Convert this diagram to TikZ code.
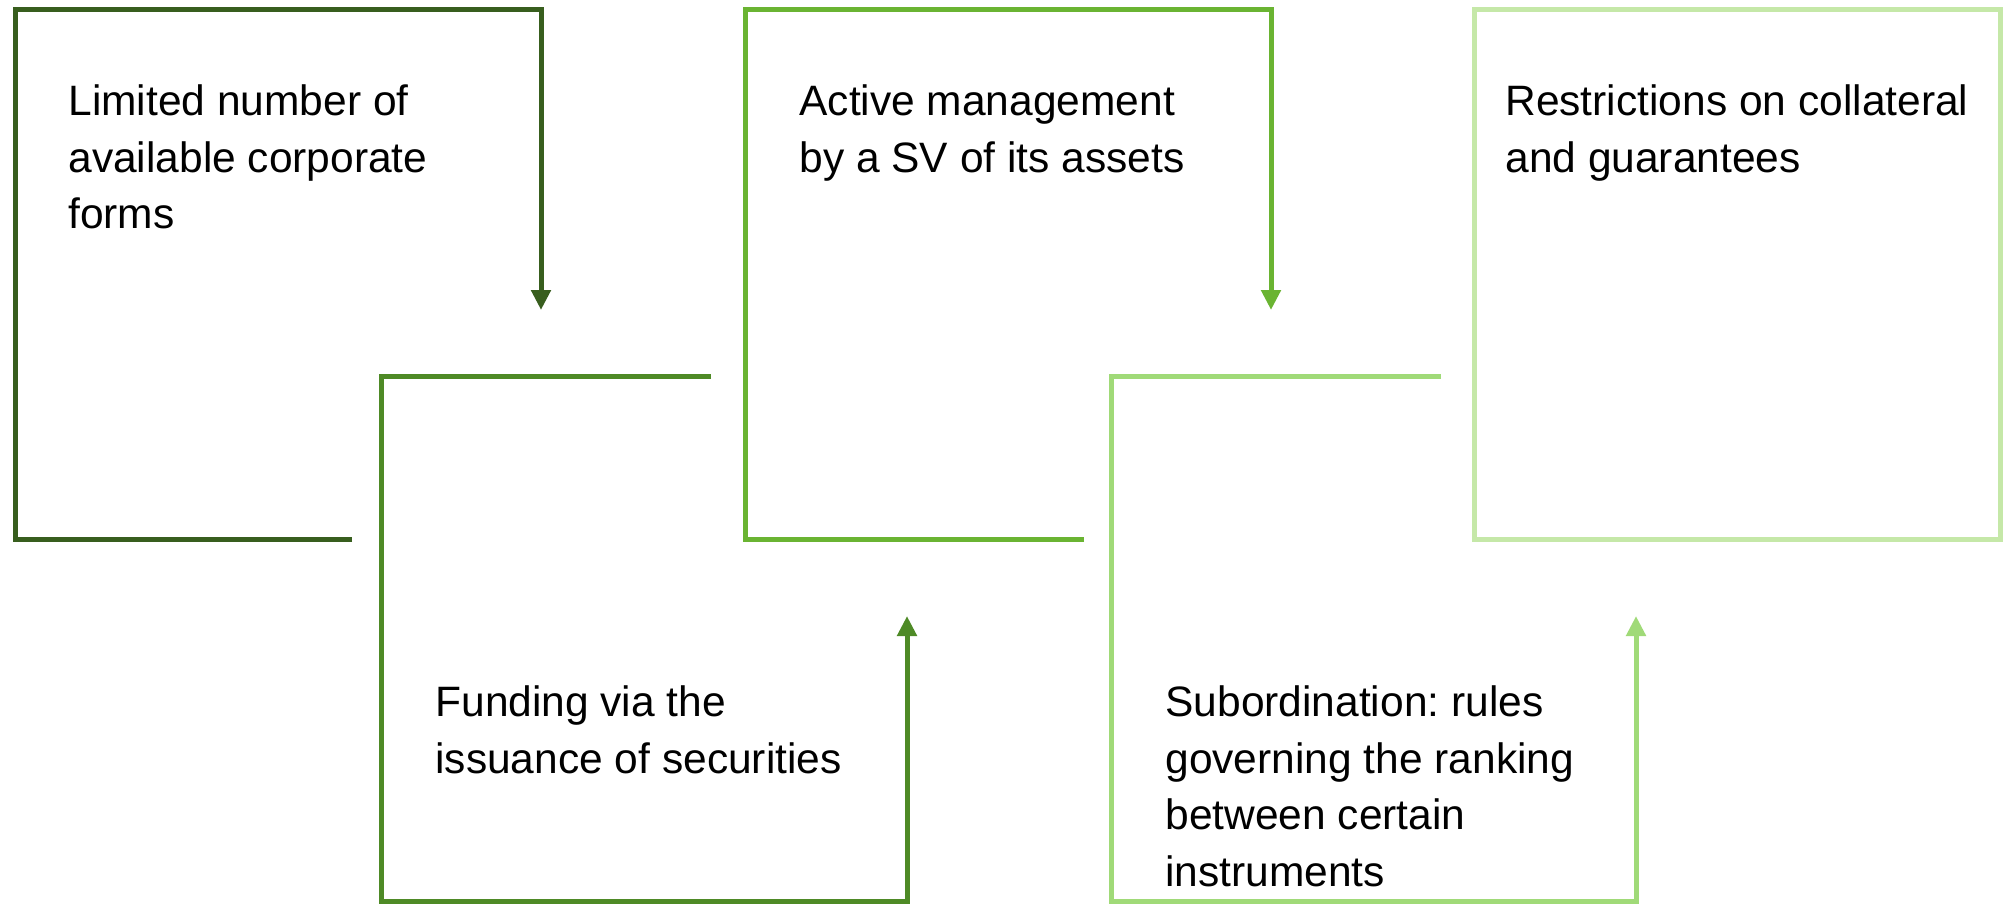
\documentclass[tikz,border=0pt]{standalone}
\usepackage{fontspec}
\setmainfont{Liberation Sans}
\usetikzlibrary{arrows.meta}
\definecolor{gA}{RGB}{56,94,30}
\definecolor{gB}{RGB}{78,138,38}
\definecolor{gC}{RGB}{106,180,50}
\definecolor{gD}{RGB}{160,218,120}
\definecolor{gE}{RGB}{197,232,168}
\begin{document}
\frenchspacing
\begin{tikzpicture}[x=0.5pt,y=-0.5pt,
  boxline/.style={line width=2.5pt, line join=miter},
  arr/.style={-{Triangle[width=9.5pt,length=10pt]}},
  lbl/.style={anchor=north west, inner sep=0pt, align=left, text=black,
    font=\fontsize{21.25}{28.25}\selectfont}]
\useasboundingbox (0,0) rectangle (2006,904);
% box 1
\coordinate (a1) at (352,539);
\coordinate (a2) at (15,539);
\coordinate (a3) at (15,10);
\coordinate (a4) at (541,10);
\coordinate (a5) at (541,310);
\draw[boxline, gA, arr] (a1) -- (a2) -- (a3) -- (a4) -- (a5);
\node[lbl] (t1) at (68,84.5) {Limited number of\\available corporate\\forms};
% box 2
\coordinate (b1) at (711,376);
\coordinate (b2) at (381,376);
\coordinate (b3) at (381,901.5);
\coordinate (b4) at (907,901.5);
\coordinate (b5) at (907,616);
\draw[boxline, gB, arr] (b1) -- (b2) -- (b3) -- (b4) -- (b5);
\node[lbl] (t2) at (435,685.5) {Funding via the\\issuance of securities};
% box 3
\coordinate (c1) at (1084,539);
\coordinate (c2) at (745,539);
\coordinate (c3) at (745,10);
\coordinate (c4) at (1271,10);
\coordinate (c5) at (1271,310);
\draw[boxline, gC, arr] (c1) -- (c2) -- (c3) -- (c4) -- (c5);
\node[lbl] (t3) at (799,84.5) {Active management\\by a SV of its assets};
% box 4
\coordinate (d1) at (1441,376);
\coordinate (d2) at (1111,376);
\coordinate (d3) at (1111,901.5);
\coordinate (d4) at (1636,901.5);
\coordinate (d5) at (1636,616);
\draw[boxline, gD, arr] (d1) -- (d2) -- (d3) -- (d4) -- (d5);
\node[lbl] (t4) at (1165,685.5) {Subordination: rules\\governing the ranking\\between certain\\instruments};
% box 5
\coordinate (e1) at (1474,10);
\coordinate (e2) at (2000,539);
\draw[boxline, gE] (e1) rectangle (e2);
\node[lbl] (t5) at (1505,84.5) {Restrictions on collateral\\and guarantees};
\end{tikzpicture}
\end{document}
